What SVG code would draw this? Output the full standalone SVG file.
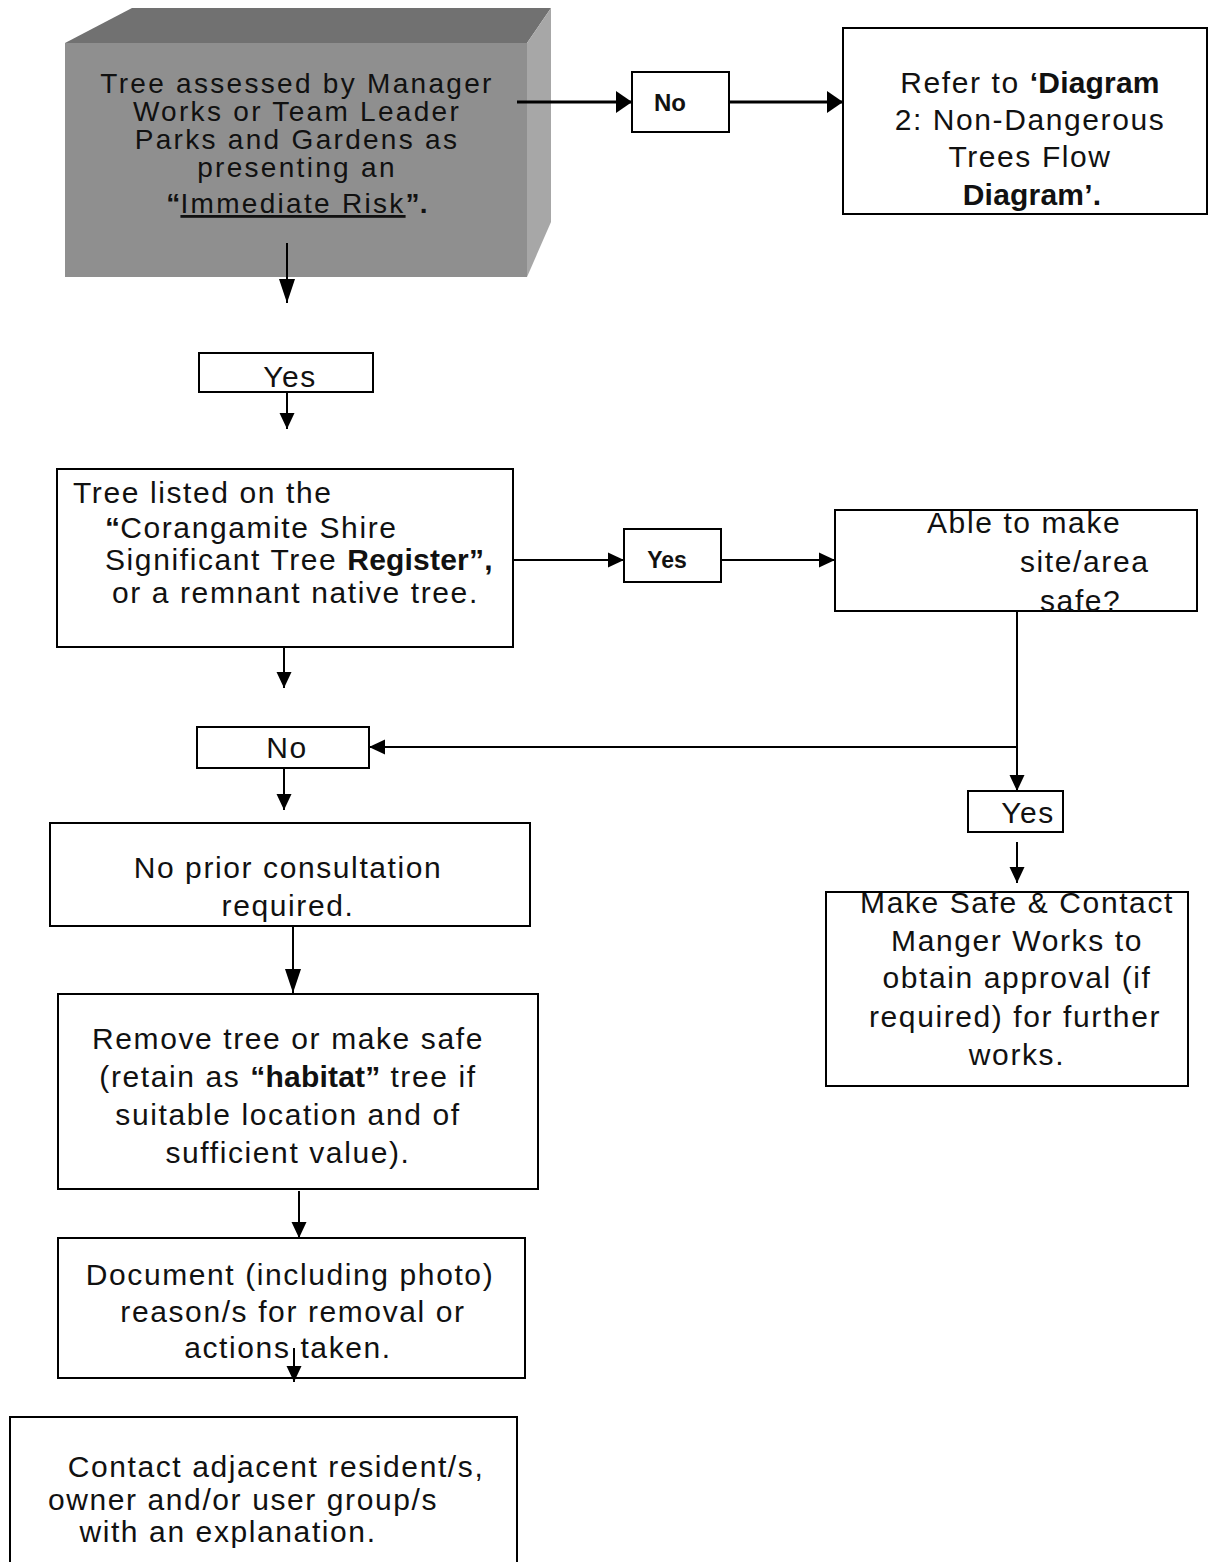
<svg xmlns="http://www.w3.org/2000/svg" width="1208" height="1562" viewBox="0 0 1208 1562">
<style>
.t{font-family:"Liberation Sans",Arial,sans-serif;font-size:30px;letter-spacing:1.6px;fill:#111}
.s{font-size:28px;letter-spacing:2.3px}
.m{text-anchor:middle}
.b{font-weight:bold;letter-spacing:0.2px}
.box{fill:#fff;stroke:#000;stroke-width:2}
.ln{fill:none;stroke:#000;stroke-width:2}
.thick{stroke-width:3}
</style>
<defs>
<marker id="ah" markerUnits="userSpaceOnUse" viewBox="0 0 16 16" markerWidth="16" markerHeight="16" refX="16" refY="8" orient="auto"><path d="M0,0.5 L16,8 L0,15.5 z" fill="#000"/></marker>
<marker id="ahL" markerUnits="userSpaceOnUse" viewBox="0 0 16 22" markerWidth="16" markerHeight="22" refX="16" refY="11" orient="auto"><path d="M0,0 L16,11 L0,22 z" fill="#000"/></marker>
<marker id="ahD" markerUnits="userSpaceOnUse" viewBox="0 0 24 16" markerWidth="24" markerHeight="16" refX="24" refY="8" orient="auto"><path d="M0,0 L24,8 L0,16 z" fill="#000"/></marker>
</defs>
<rect width="1208" height="1562" fill="#fff"/>

<g id="n-assess">
<polygon points="65,43 132,8 551,8 527,43" fill="#717171"/>
<polygon points="527,43 551,8 551,222 527,277" fill="#a7a7a7"/>
<rect x="65" y="43" width="462" height="234" fill="#8f8f8f"/>
<text class="t s m" x="297" y="93">Tree assessed by Manager</text>
<text class="t s m" x="297" y="121">Works or Team Leader</text>
<text class="t s m" x="297" y="149">Parks and Gardens as</text>
<text class="t s m" x="297" y="177">presenting an</text>
<text class="t s m" x="297" y="213"><tspan class="b">“</tspan><tspan text-decoration="underline">Immediate Risk</tspan><tspan class="b">”.</tspan></text>
</g>

<g id="n-no1">
<rect class="box" x="632" y="72" width="97" height="60"/>
<text x="670" y="111" text-anchor="middle" font-family="Liberation Sans, Arial, sans-serif" font-size="24" font-weight="bold" fill="#111">No</text>
</g>

<g id="n-refer">
<rect class="box" x="843" y="28" width="364" height="186"/>
<text class="t m" x="1030" y="93">Refer to <tspan class="b">‘Diagram</tspan></text>
<text class="t m" x="1030" y="130">2: Non-Dangerous</text>
<text class="t m" x="1030" y="167">Trees Flow</text>
<text class="t m" x="1032" y="205"><tspan class="b">Diagram’.</tspan></text>
</g>

<g id="n-yes1">
<rect class="box" x="199" y="353" width="174" height="39"/>
<text class="t m" x="290" y="387">Yes</text>
</g>

<g id="n-listed">
<rect class="box" x="57" y="469" width="456" height="178"/>
<text class="t" x="73" y="503">Tree listed on the</text>
<text class="t" x="105" y="538"><tspan class="b">“</tspan>Corangamite Shire</text>
<text class="t" x="105" y="570">Significant Tree <tspan class="b">Register”,</tspan></text>
<text class="t" x="112" y="603">or a remnant native tree.</text>
</g>

<g id="n-yes2">
<rect class="box" x="624" y="529" width="97" height="53"/>
<text x="667" y="568" text-anchor="middle" font-family="Liberation Sans, Arial, sans-serif" font-size="23" font-weight="bold" fill="#111">Yes</text>
</g>

<g id="n-able">
<rect class="box" x="835" y="510" width="362" height="101"/>
<text class="t" x="927" y="533">Able to make</text>
<text class="t" x="1020" y="572">site/area</text>
<text class="t" x="1040" y="611">safe?</text>
</g>

<g id="n-no2">
<rect class="box" x="197" y="727" width="172" height="41"/>
<text class="t m" x="287" y="758">No</text>
</g>

<g id="n-yes3">
<rect class="box" x="968" y="791" width="95" height="41"/>
<text class="t m" x="1028" y="823">Yes</text>
</g>

<g id="n-noprior">
<rect class="box" x="50" y="823" width="480" height="103"/>
<text class="t m" x="288" y="878">No prior consultation</text>
<text class="t m" x="288" y="916">required.</text>
</g>

<g id="n-makesafe">
<rect class="box" x="826" y="892" width="362" height="194"/>
<text class="t m" x="1017" y="913">Make Safe &amp; Contact</text>
<text class="t m" x="1017" y="951">Manger Works to</text>
<text class="t m" x="1017" y="988">obtain approval (if</text>
<text class="t m" x="1015" y="1027">required) for further</text>
<text class="t m" x="1017" y="1065">works.</text>
</g>

<g id="n-remove">
<rect class="box" x="58" y="994" width="480" height="195"/>
<text class="t m" x="288" y="1049">Remove tree or make safe</text>
<text class="t m" x="288" y="1087">(retain as <tspan class="b">“habitat”</tspan> tree if</text>
<text class="t m" x="288" y="1125">suitable location and of</text>
<text class="t m" x="288" y="1163">sufficient value).</text>
</g>

<g id="n-document">
<rect class="box" x="58" y="1238" width="467" height="140"/>
<text class="t m" x="290" y="1285">Document (including photo)</text>
<text class="t m" x="293" y="1322">reason/s for removal or</text>
<text class="t m" x="288" y="1358">actions taken.</text>
</g>

<g id="n-contact">
<path d="M10,1562 V1417 H517 V1562" fill="#fff" stroke="#000" stroke-width="2"/>
<text class="t m" x="276" y="1477">Contact adjacent resident/s,</text>
<text class="t m" x="243" y="1510">owner and/or user group/s</text>
<text class="t m" x="228" y="1542">with an explanation.</text>
</g>

<g id="connectors">
<path class="ln thick" d="M517,102 H632" marker-end="url(#ahL)"/>
<path class="ln thick" d="M729,102 H843" marker-end="url(#ahL)"/>
<path class="ln" d="M287,243 V303" marker-end="url(#ahD)"/>
<path class="ln" d="M287,392 V429" marker-end="url(#ah)"/>
<path class="ln" d="M513,560 H624" marker-end="url(#ah)"/>
<path class="ln" d="M721,560 H835" marker-end="url(#ah)"/>
<path class="ln" d="M284,648 V688" marker-end="url(#ah)"/>
<path class="ln" d="M1017,612 V747 H369" marker-end="url(#ah)"/>
<path class="ln" d="M1017,747 V791" marker-end="url(#ah)"/>
<path class="ln" d="M284,768 V810" marker-end="url(#ah)"/>
<path class="ln" d="M1017,842 V883" marker-end="url(#ah)"/>
<path class="ln" d="M293,926 V993" marker-end="url(#ahD)"/>
<path class="ln" d="M299,1191 V1238" marker-end="url(#ah)"/>
<path class="ln" d="M294,1348 V1382" marker-end="url(#ah)"/>
</g>
</svg>
